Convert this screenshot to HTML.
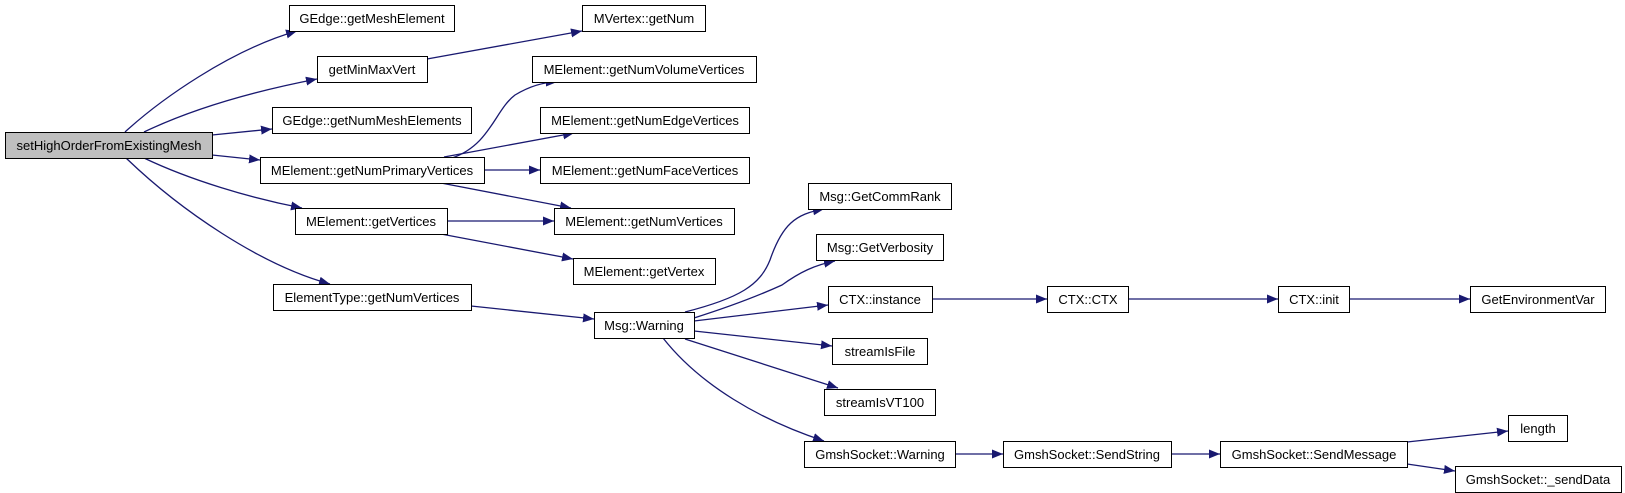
<!DOCTYPE html>
<html><head><meta charset="utf-8"><style>
html,body{margin:0;padding:0;background:#fff;}
svg{display:block;}
text{font-family:"Liberation Sans",Arial,sans-serif;font-size:13px;fill:#000;}
</style></head><body>
<svg width="1625" height="493" viewBox="0 0 1625 493" xmlns="http://www.w3.org/2000/svg">
<defs>
<marker id="a" markerUnits="userSpaceOnUse" markerWidth="12" markerHeight="10" refX="11" refY="4.5" orient="auto">
<path d="M0,0 L11,4.5 L0,9 Z" fill="#191970"/>
</marker>
</defs>
<g fill="none" stroke="#191970" stroke-width="1.3" marker-end="url(#a)">
<path d="M125,132 C160,100 230,50 297,31"/>
<path d="M144,132 C190,110 250,92 317,79"/>
<path d="M212,135 L272,129"/>
<path d="M212,155 L260,160"/>
<path d="M144,158 C190,180 250,198 302,208"/>
<path d="M126,158 C180,210 260,265 330,284"/>
<path d="M427,59 L582,31"/>
<path d="M452,158 C490,145 495,110 515,95 C530,86 545,82 557,82"/>
<path d="M444,157 L574,133"/>
<path d="M484,170 L540,170"/>
<path d="M441,183 L571,208"/>
<path d="M447,221 L554,221"/>
<path d="M441,234 L573,259"/>
<path d="M471,306 L594,319"/>
<path d="M685,312 C740,298 760,285 770,260 C782,225 795,214 824,209"/>
<path d="M694,318 C735,305 760,295 782,285 C800,272 815,265 835,261"/>
<path d="M694,321 L828,305"/>
<path d="M694,331 L832,346"/>
<path d="M685,339 L838,388"/>
<path d="M663,338 C700,385 760,420 824,441"/>
<path d="M932,299 L1047,299"/>
<path d="M1128,299 L1278,299"/>
<path d="M1349,299 L1470,299"/>
<path d="M955,454 L1003,454"/>
<path d="M1171,454 L1220,454"/>
<path d="M1407,442 L1508,431"/>
<path d="M1407,464 L1455,471"/>
</g>
<g stroke="#000" stroke-width="1" fill="#fff">
<rect x="5.5" y="132.5" width="207" height="26" fill="#bfbfbf"/>
<rect x="289.5" y="5.5" width="165" height="26"/>
<rect x="317.5" y="56.5" width="110" height="26"/>
<rect x="272.5" y="107.5" width="199" height="26"/>
<rect x="260.5" y="157.5" width="224" height="26"/>
<rect x="295.5" y="208.5" width="152" height="26"/>
<rect x="273.5" y="284.5" width="198" height="26"/>
<rect x="582.5" y="5.5" width="123" height="26"/>
<rect x="532.5" y="56.5" width="224" height="26"/>
<rect x="540.5" y="107.5" width="209" height="26"/>
<rect x="540.5" y="157.5" width="209" height="26"/>
<rect x="554.5" y="208.5" width="180" height="26"/>
<rect x="573.5" y="258.5" width="142" height="26"/>
<rect x="594.5" y="312.5" width="100" height="26"/>
<rect x="808.5" y="183.5" width="143" height="26"/>
<rect x="816.5" y="234.5" width="127" height="26"/>
<rect x="828.5" y="286.5" width="104" height="26"/>
<rect x="1047.5" y="286.5" width="81" height="26"/>
<rect x="1278.5" y="286.5" width="71" height="26"/>
<rect x="1470.5" y="286.5" width="135" height="26"/>
<rect x="832.5" y="338.5" width="95" height="26"/>
<rect x="824.5" y="389.5" width="111" height="26"/>
<rect x="804.5" y="441.5" width="151" height="26"/>
<rect x="1003.5" y="441.5" width="168" height="26"/>
<rect x="1220.5" y="441.5" width="187" height="26"/>
<rect x="1508.5" y="415.5" width="59" height="26"/>
<rect x="1455.5" y="466.5" width="166" height="26"/>
</g>
<g text-anchor="middle">
<text x="109" y="150">setHighOrderFromExistingMesh</text>
<text x="372" y="23">GEdge::getMeshElement</text>
<text x="372" y="74">getMinMaxVert</text>
<text x="372" y="125">GEdge::getNumMeshElements</text>
<text x="372" y="175">MElement::getNumPrimaryVertices</text>
<text x="371" y="226">MElement::getVertices</text>
<text x="372" y="302">ElementType::getNumVertices</text>
<text x="644" y="23">MVertex::getNum</text>
<text x="644" y="74">MElement::getNumVolumeVertices</text>
<text x="645" y="125">MElement::getNumEdgeVertices</text>
<text x="645" y="175">MElement::getNumFaceVertices</text>
<text x="644" y="226">MElement::getNumVertices</text>
<text x="644" y="276">MElement::getVertex</text>
<text x="644" y="330">Msg::Warning</text>
<text x="880" y="201">Msg::GetCommRank</text>
<text x="880" y="252">Msg::GetVerbosity</text>
<text x="880" y="304">CTX::instance</text>
<text x="1088" y="304">CTX::CTX</text>
<text x="1314" y="304">CTX::init</text>
<text x="1538" y="304">GetEnvironmentVar</text>
<text x="880" y="356">streamIsFile</text>
<text x="880" y="407">streamIsVT100</text>
<text x="880" y="459">GmshSocket::Warning</text>
<text x="1087" y="459">GmshSocket::SendString</text>
<text x="1314" y="459">GmshSocket::SendMessage</text>
<text x="1538" y="433">length</text>
<text x="1538" y="484">GmshSocket::_sendData</text>
</g>
</svg>
</body></html>
